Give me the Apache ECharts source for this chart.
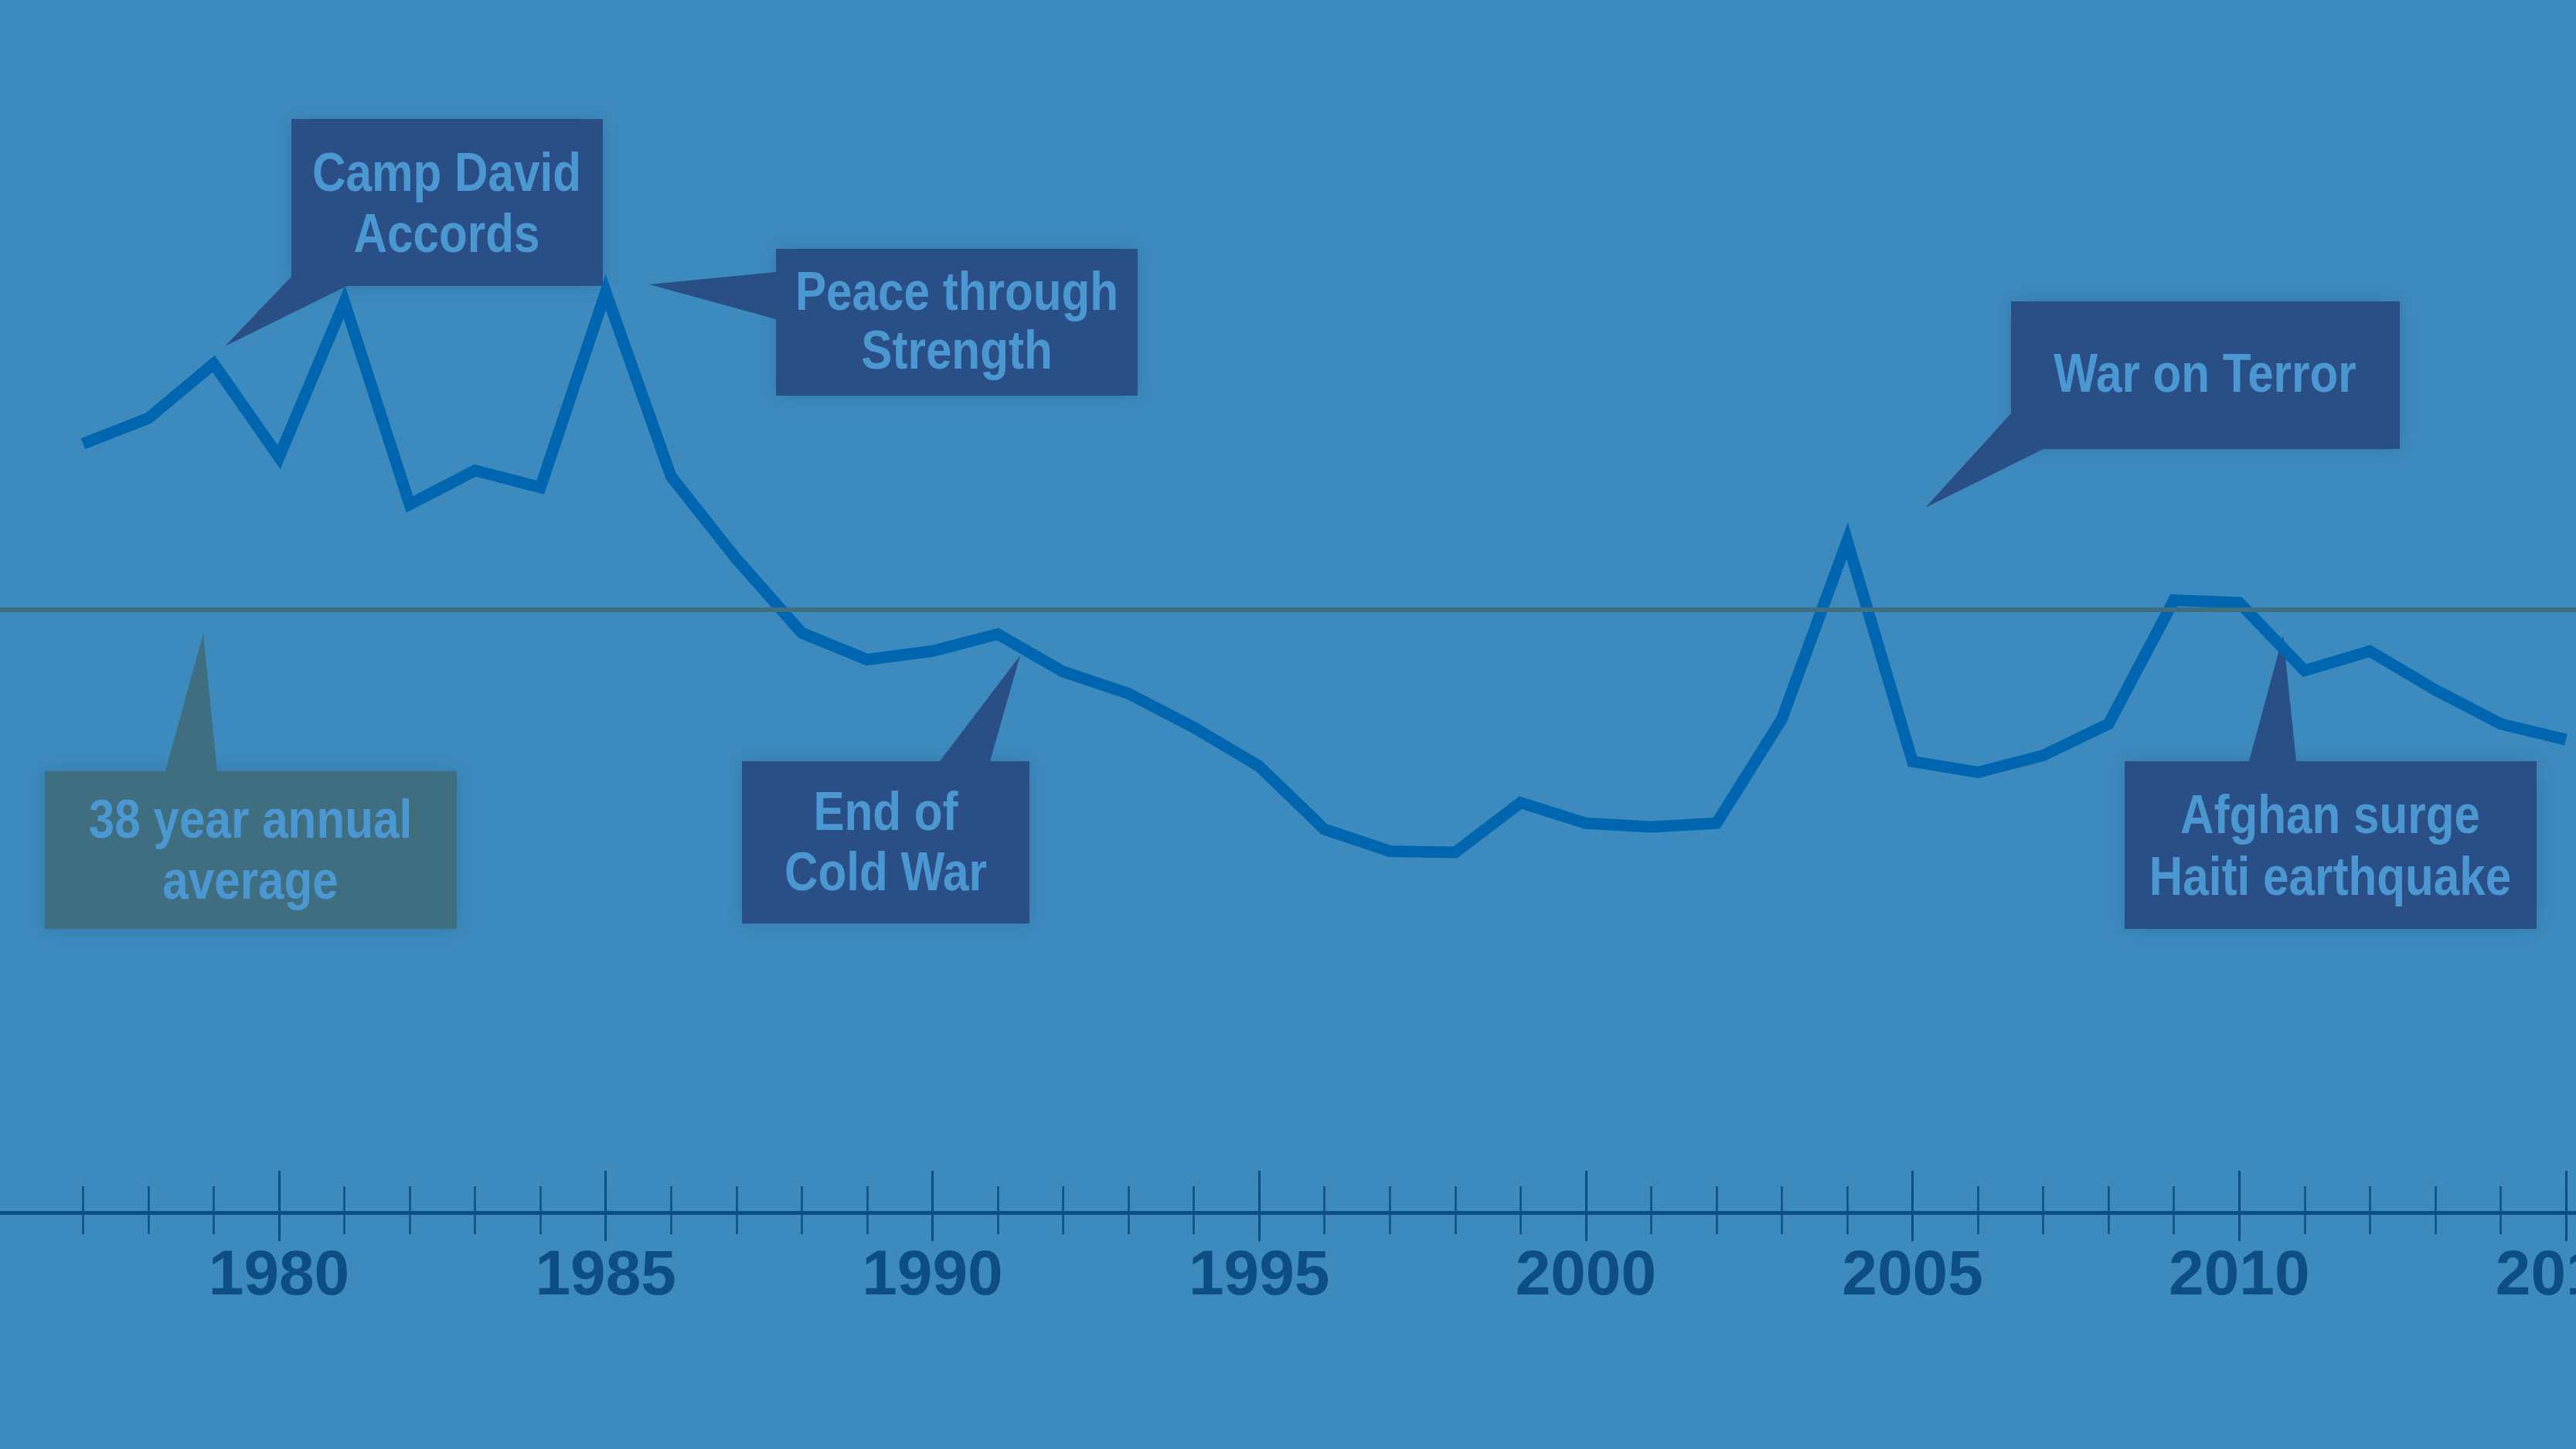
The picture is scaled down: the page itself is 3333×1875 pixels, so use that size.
<!DOCTYPE html>
<html>
<head>
<meta charset="utf-8">
<script src="https://cdn.jsdelivr.net/npm/echarts@6/dist/echarts.min.js"></script>
<style>
  html, body { margin: 0; padding: 0; background: #3d8abf; }
  #main { width: 3333px; height: 1875px; }
</style>
</head>
<body>
<div id="main"></div>
<script>
// years on the axis
const years = [1977, 1978, 1979, 1980, 1981, 1982, 1983, 1984, 1985, 1986,
  1987, 1988, 1989, 1990, 1991, 1992, 1993, 1994, 1995, 1996,
  1997, 1998, 1999, 2000, 2001, 2002, 2003, 2004, 2005, 2006,
  2007, 2008, 2009, 2010, 2011, 2012, 2013, 2014, 2015]
// annual values (index)
const values = [63.4, 65.5, 70.0, 62.3, 75.1, 58.4, 61.2, 59.8, 75.9, 60.7,
  53.9, 47.8, 45.6, 46.3, 47.7, 44.6, 42.8, 40.0, 36.8, 31.6,
  29.8, 29.7, 33.8, 32.1, 31.8, 32.1, 40.7, 55.4, 37.2, 36.3,
  37.7, 40.3, 50.5, 50.3, 44.7, 46.3, 43.1, 40.3, 39.0]
// 38 year annual average
const average = 49.7
// labelled years
const tickLabels = [1980, 1985, 1990, 1995, 2000, 2005, 2010, 2015]

// annotation texts
const notes = [
  { text: 'Camp David\nAccords', dark: true },
  { text: 'Peace through\nStrength', dark: true },
  { text: '38 year annual\naverage', dark: false },
  { text: 'End of\nCold War', dark: true },
  { text: 'War on Terror', dark: true },
  { text: 'Afghan surge\nHaiti earthquake', dark: true }
]
// box [x, y, w, h], pointer triangle, text centre, line height
const noteLayout = [
  { box: [377, 154, 403, 216], ptr: [[377, 358], [291, 448], [449, 370]], c: [578, 267], lh: 79 },
  { box: [1004, 322, 468, 190], ptr: [[1004, 352], [840, 368], [1004, 413]], c: [1238, 420], lh: 76 },
  { box: [58, 998, 533, 204], ptr: [[214, 998], [263, 820], [281, 998]], c: [324, 1104], lh: 79 },
  { box: [960, 985, 372, 210], ptr: [[1216, 985], [1320, 848], [1281, 985]], c: [1146, 1094], lh: 78 },
  { box: [2602, 390, 503, 191], ptr: [[2602, 535], [2491, 657], [2644, 581]], c: [2853, 488], lh: 78 },
  { box: [2749, 985, 533, 217], ptr: [[2910, 985], [2954, 822], [2971, 985]], c: [3015, 1099], lh: 80 }
]

let bg = '#3d8abf'
let lineColor = '#0066b0'
let axisColor = '#0d4f83'
let boxColor = '#2a4f86'
let tealColor = '#3e6e80'
let noteText = '#4a97d1'

let chartDom = document.getElementById('main')
let myChart = echarts.init(chartDom)

function tickAxis(ticks, inside, length, width, showLine, showLabel) {
  return {
    type: 'value',
    position: 'bottom',
    min: 1975,
    max: 2015.154,
    interval: 5,
    splitLine: { show: false },
    axisLine: { show: showLine, lineStyle: { color: axisColor, width: 5 } },
    axisTick: {
      show: true,
      inside: inside,
      length: length,
      customValues: ticks,
      lineStyle: { color: axisColor, width: width }
    },
    axisLabel: {
      show: showLabel,
      customValues: tickLabels,
      margin: 83,
      verticalAlign: 'middle',
      color: axisColor,
      fontFamily: '"Liberation Sans", Arial, sans-serif',
      fontWeight: 'bold',
      fontSize: 82,
      formatter: function (v) { return String(v) }
    }
  }
}

let graphics = []
notes.forEach(function (n, i) {
  let l = noteLayout[i]
  let fill = n.dark ? boxColor : tealColor
  graphics.push({
    type: 'group',
    z: 10,
    children: [
      {
        type: 'rect',
        shape: { x: l.box[0], y: l.box[1], width: l.box[2], height: l.box[3] },
        style: { fill: fill, shadowBlur: 24, shadowColor: 'rgba(0,0,0,0.12)' }
      },
      {
        type: 'polygon',
        shape: { points: l.ptr },
        style: { fill: fill }
      },
      {
        // condensed look: squeeze a bold sans horizontally
        type: 'text',
        x: l.c[0],
        y: l.c[1],
        scaleX: 0.86,
        style: {
          x: 0,
          y: 0,
          text: n.text,
          fill: noteText,
          fontFamily: '"Liberation Sans", Arial, sans-serif',
          fontWeight: 'bold',
          fontSize: 70,
          lineHeight: l.lh,
          align: 'center',
          verticalAlign: 'middle'
        }
      }
    ]
  })
})

let option = {
  backgroundColor: bg,
  animation: false,
  grid: {
    left: -61.7,
    right: 0,
    top: 0,
    bottom: 306,
    outerBoundsMode: 'none'
  },
  xAxis: [
    tickAxis(tickLabels, true, 54, 3, true, true),
    tickAxis(tickLabels, false, 37, 3, false, false),
    tickAxis(years, true, 34, 2.5, false, false),
    tickAxis(years, false, 28, 2.5, false, false)
  ],
  yAxis: { type: 'value', min: 0, max: 100, show: false },
  series: [
    {
      type: 'line',
      xAxisIndex: 0,
      symbol: 'none',
      lineStyle: { color: lineColor, width: 15, join: 'miter', miterLimit: 20 },
      data: years.map(function (y, i) { return [y, values[i]] }),
      markLine: {
        silent: true,
        symbol: 'none',
        label: { show: false },
        lineStyle: { color: tealColor, width: 6, type: 'solid' },
        data: [{ yAxis: average }]
      }
    }
  ],
  graphic: graphics
}

option && myChart.setOption(option)
</script>
</body>
</html>
